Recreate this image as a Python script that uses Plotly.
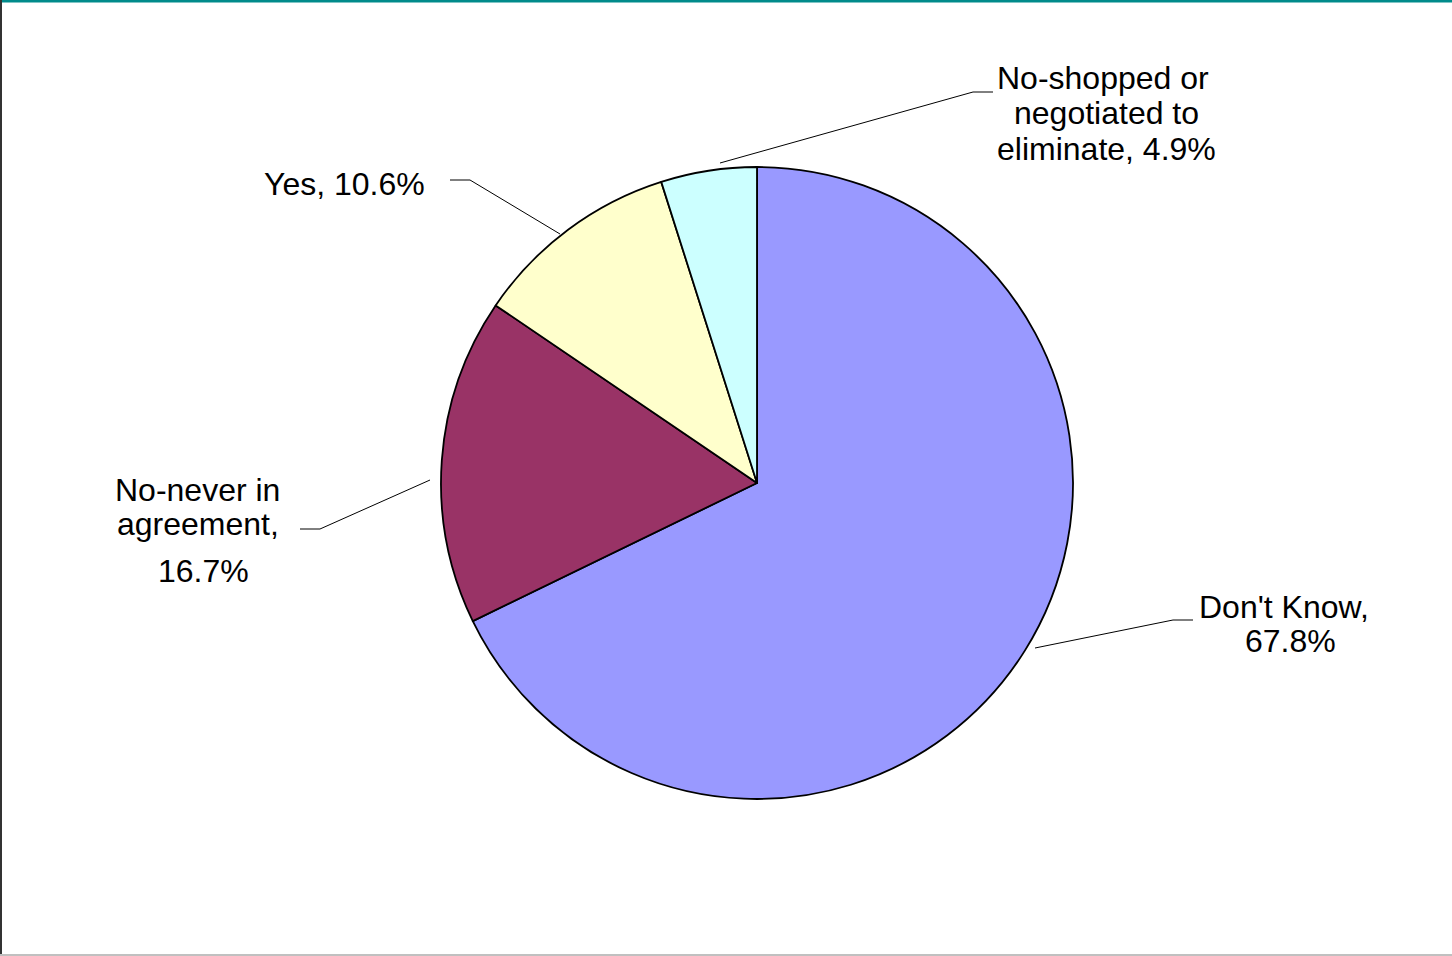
import plotly.graph_objects as go

# Data
categories = ["Don't Know", "No-never in agreement", "Yes", "No-shopped or negotiated to eliminate"]
values = [67.8, 16.7, 10.6, 4.9]
colors = ["#9999FF", "#993366", "#FFFFCC", "#CCFFFF"]

W, H = 1452, 956

def px(x):
    return x / W

def py(y):
    return 1 - y / H

cx, cy, r = 757, 483, 316

fig = go.Figure(go.Pie(
    labels=categories,
    values=values,
    sort=False,
    direction="clockwise",
    rotation=0,
    marker=dict(colors=colors, line=dict(color="black", width=1.8)),
    textinfo="none",
    hoverinfo="label+percent",
    domain=dict(x=[px(cx - r), px(cx + r)], y=[py(cy + r), py(cy - r)]),
    showlegend=False,
))

font = dict(family="Liberation Sans, Arial, sans-serif", size=32, color="black")

# label lines: (text, center x, center y)
label_lines = [
    ("No-shopped or", 1103, 78),
    ("negotiated to", 1106, 113),
    (f"eliminate, {values[3]}%", 1106, 149),
    (f"Yes, {values[2]}%", 344, 184),
    ("No-never in", 198, 490),
    ("agreement,", 198, 524),
    (f"{values[1]}%", 203, 571),
    ("Don't Know,", 1284, 607),
    (f"{values[0]}%", 1290, 641),
]

annotations = []
for t, x, y in label_lines:
    annotations.append(dict(text=t, x=px(x), y=py(y), xref="paper", yref="paper",
                            xanchor="center", yanchor="middle", showarrow=False, font=font))

# leader lines (pixel coords): list of polylines
leaders = [
    [(993, 92), (973, 92), (720, 163)],
    [(450, 180), (470, 180), (560, 234)],
    [(300, 529), (320, 529), (430, 480)],
    [(1193, 620), (1173, 620), (1035, 648)],
]

shapes = []
for pts in leaders:
    for (x0, y0), (x1, y1) in zip(pts[:-1], pts[1:]):
        shapes.append(dict(type="line", xref="paper", yref="paper",
                           x0=px(x0), y0=py(y0), x1=px(x1), y1=py(y1),
                           line=dict(color="black", width=1)))

# frame
shapes.append(dict(type="line", xref="paper", yref="paper", x0=0, x1=1, y0=py(1), y1=py(1),
                   line=dict(color="#008B8B", width=3)))
shapes.append(dict(type="line", xref="paper", yref="paper", x0=px(1), x1=px(1), y0=0, y1=1,
                   line=dict(color="#333333", width=2)))
shapes.append(dict(type="line", xref="paper", yref="paper", x0=0, x1=1, y0=py(955), y1=py(955),
                   line=dict(color="#C0C0C0", width=2)))

fig.update_layout(
    width=W, height=H,
    margin=dict(l=0, r=0, t=0, b=0),
    paper_bgcolor="white",
    plot_bgcolor="white",
    annotations=annotations,
    shapes=shapes,
    showlegend=False,
)

fig.write_html("out.html", config={"displayModeBar": False},
               post_script="document.body.style.margin='0';document.body.style.overflow='hidden';")
